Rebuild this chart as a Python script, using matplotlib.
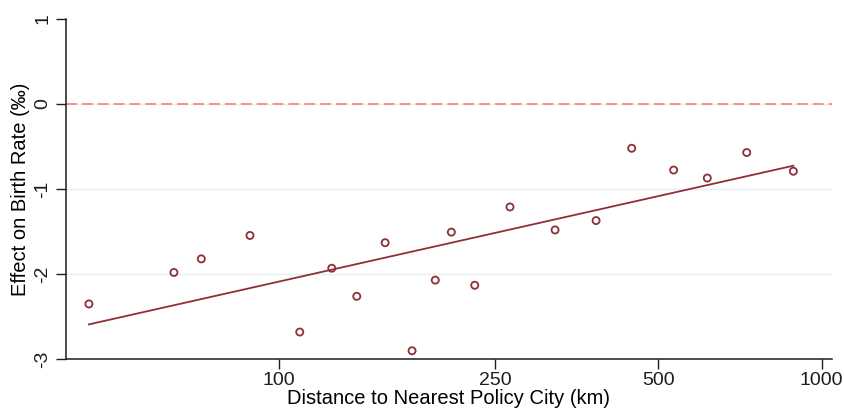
import matplotlib
matplotlib.use("Agg")
import matplotlib.pyplot as plt

plt.rcParams["font.family"] = ["Liberation Sans", "DejaVu Sans"]

COLORS = {
    "marker": "#8E2F38",
    "zero": "#F28A8A",
    "grid": "#E6EFF0",
    "axis": "#1D1D1D"
}

distance_km = [44.7, 64.1, 72.0, 88.5, 109.3, 125.2, 139.2, 157.0, 176.0, 194.2,
               207.9, 229.6, 266.6, 322.8, 384.1, 446.7, 533.7, 615.6, 727.6, 886.8]
effect = [-2.35, -1.98, -1.82, -1.545, -2.68, -1.93, -2.26, -1.63, -2.90, -2.07,
          -1.506, -2.13, -1.21, -1.48, -1.37, -0.52, -0.776, -0.87, -0.57, -0.79]

fit_x = [44.7, 886.8]
fit_y = [-2.59, -0.725]

x_ticks = [100, 250, 500, 1000]
y_ticks = [1, 0, -1, -2, -3]


def draw_chart():
    fig = plt.figure(figsize=(8.45, 4.12), dpi=100)
    ax = fig.add_axes([0.0777, 0.128, 0.907, 0.826])

    for y in [0, -1, -2]:
        ax.axhline(y, color=COLORS["grid"], lw=1.0, zorder=0)
    ax.axhline(0, color=COLORS["zero"], lw=1.3, ls=(0, (6, 2.8)), zorder=1)

    ax.plot(fit_x, fit_y, color=COLORS["marker"], lw=1.3, zorder=2)
    ax.scatter(distance_km, effect, s=26, facecolors="none",
               edgecolors=COLORS["marker"], linewidths=1.3, zorder=3)

    ax.set_xscale("log")
    ax.set_xlim(40.5, 1045)
    ax.set_ylim(-3, 1)
    ax.set_xticks(x_ticks)
    ax.set_xticklabels([str(t) for t in x_ticks])
    ax.minorticks_off()
    ax.set_yticks(y_ticks)
    ax.set_yticklabels([str(t) for t in y_ticks], rotation=90, va="center")

    ax.tick_params(direction="out", length=7, width=1, labelsize=14,
                   colors=COLORS["axis"])
    ax.tick_params(axis="x", pad=2)
    for side in ["top", "right"]:
        ax.spines[side].set_visible(False)
    for side in ["left", "bottom"]:
        ax.spines[side].set_linewidth(1.1)
        ax.spines[side].set_color(COLORS["axis"])

    ax.set_xlabel("Distance to Nearest Policy City (km)", fontsize=14.5, labelpad=0)
    ax.set_ylabel("Effect on Birth Rate (‰)", fontsize=14.5, labelpad=3)

    fig.savefig("out.png", dpi=100)
    plt.close(fig)


if __name__ == "__main__":
    draw_chart()
